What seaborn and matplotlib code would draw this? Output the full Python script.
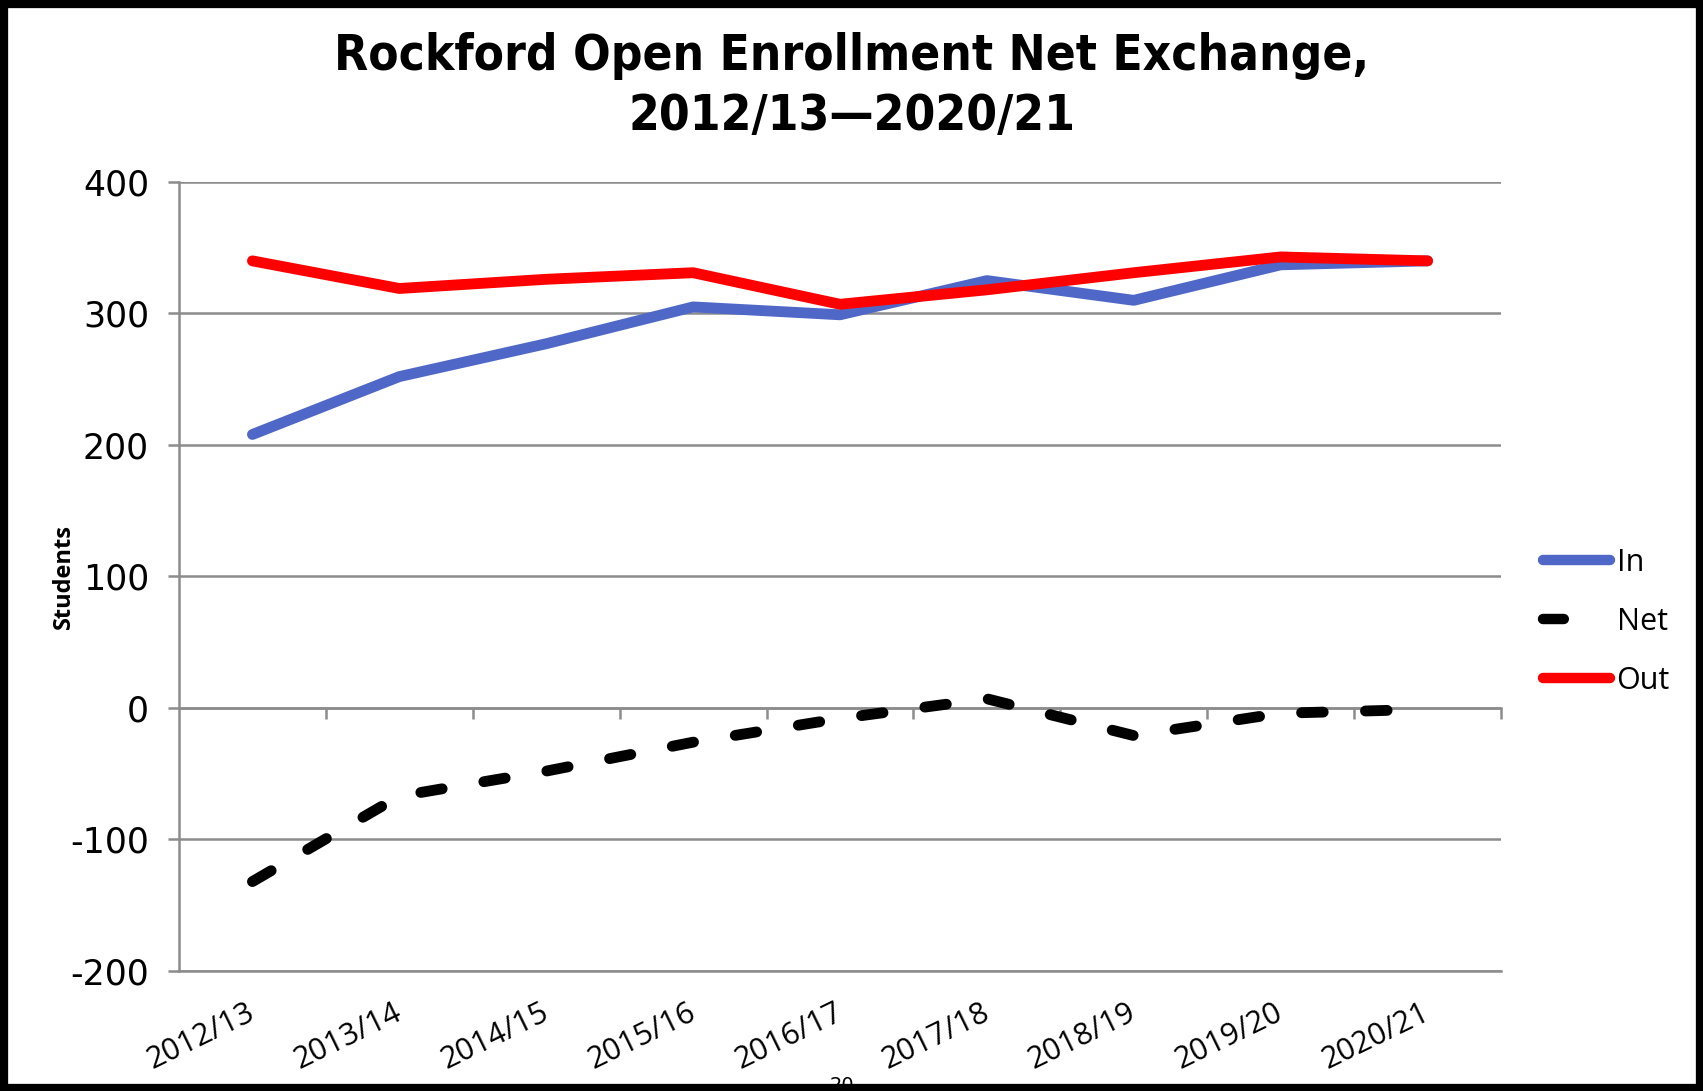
import pandas as pd
import matplotlib
matplotlib.use("Agg")
import matplotlib.pyplot as plt
import matplotlib.transforms as mtrans
import seaborn as sns
from matplotlib.patches import Rectangle

# values
years = ["2012/13", "2013/14", "2014/15", "2015/16", "2016/17",
         "2017/18", "2018/19", "2019/20", "2020/21"]
students_in = [208, 252, 277, 305, 299, 325, 310, 337, 340]
students_out = [340, 319, 326, 331, 307, 318, 331, 343, 340]
students_net = [-132, -67, -48, -26, -8, 7, -21, -4, -1]
y_ticks = [-200, -100, 0, 100, 200, 300, 400]

df = pd.concat([
    pd.DataFrame({"Year": years, "Students": students_in, "Series": "In"}),
    pd.DataFrame({"Year": years, "Students": students_net, "Series": "Net"}),
    pd.DataFrame({"Year": years, "Students": students_out, "Series": "Out"}),
], ignore_index=True)

sns.set_style("white")
plt.rcParams["lines.solid_capstyle"] = "round"
plt.rcParams["lines.dash_capstyle"] = "round"
plt.rcParams["font.family"] = ["DejaVu Sans"]
plt.rcParams["text.color"] = "black"
plt.rcParams["axes.labelcolor"] = "black"
plt.rcParams["xtick.color"] = "black"
plt.rcParams["ytick.color"] = "black"

fig = plt.figure(figsize=(17.03, 10.91), dpi=100)
ax = fig.add_axes([0.1051, 0.1100, 0.7763, 0.7232])

grid_col = "#8c8c8c"

sns.lineplot(
    data=df, x="Year", y="Students", hue="Series", style="Series",
    palette={"In": "#4f68c8", "Net": "#000000", "Out": "#ff0000"},
    dashes={"In": "", "Net": (2.0, 3.9), "Out": ""},
    linewidth=7.8, sort=False, ax=ax, zorder=3,
)

ax.set_xlim(-0.5, len(years) - 0.5)
ax.set_ylim(-200, 400)
ax.set_yticks(y_ticks)
ax.set_yticklabels([str(v) for v in y_ticks], fontsize=25)
ax.grid(axis="y", color=grid_col, linewidth=1.8)
ax.grid(axis="x", visible=False)

for side in ["top", "right"]:
    ax.spines[side].set_visible(False)
for side in ["left", "bottom"]:
    ax.spines[side].set_color(grid_col)
    ax.spines[side].set_linewidth(1.8)

ax.tick_params(axis="y", length=8, width=1.8, color=grid_col, labelcolor="black",
               pad=13.5, left=True)
ax.tick_params(axis="x", length=0, pad=14)
ax.set_xticks(range(len(years)))
ax.set_xticklabels(years, rotation=26, ha="right", va="top",
                   rotation_mode="anchor", fontsize=22, family="Open Sans")
shift = mtrans.ScaledTranslation(-6 / 100, -7 / 100, fig.dpi_scale_trans)
for lab in ax.get_xticklabels():
    lab.set_transform(lab.get_transform() + shift)

# category axis crossing at zero, ticks between categories
sec = ax.secondary_xaxis(1 / 3)
sec.set_xticks([i + 0.5 for i in range(len(years))])
sec.set_xticklabels([])
sec.tick_params(length=8, width=1.8, color=grid_col, direction="out")
sec.spines["bottom"].set_color(grid_col)
sec.spines["bottom"].set_linewidth(1.8)

ax.set_xlabel("")
ax.set_ylabel("Students", fontsize=17, fontweight="bold", family="Open Sans")
ax.yaxis.set_label_coords(-0.078, 0.5)

sns.move_legend(
    ax, loc="center left", bbox_to_anchor=(0.890, 0.43),
    bbox_transform=fig.transFigure, frameon=False, title=None,
    fontsize=22, handlelength=2.2, handletextpad=0.2, labelspacing=0.95,
)
for t in ax.get_legend().get_texts():
    t.set_family("Open Sans")
    t.set_color("black")
for h, t in zip(ax.get_legend().legend_handles, ax.get_legend().get_texts()):
    h.set_linewidth(7.5)
    if t.get_text() == "Net":
        h.set_dashes((2.0, 7.0))

fig.text(0.5, 1 - 86 / 1091, "Rockford Open Enrollment Net Exchange,\n2012/13\u20142020/21",
         ha="center", va="center", fontsize=35.5, fontweight="bold",
         family="DejaVu Sans", fontstretch="condensed", linespacing=1.3)

# page number peeking under the frame
fig.text(842 / 1703, 0.014, "20", ha="center", va="top", fontsize=14, zorder=1)
fig.patches.append(Rectangle((0, 0), 1, 1, transform=fig.transFigure, fill=False,
                             edgecolor="black", linewidth=11, zorder=10))

fig.savefig("out.png", dpi=100, facecolor="white")
